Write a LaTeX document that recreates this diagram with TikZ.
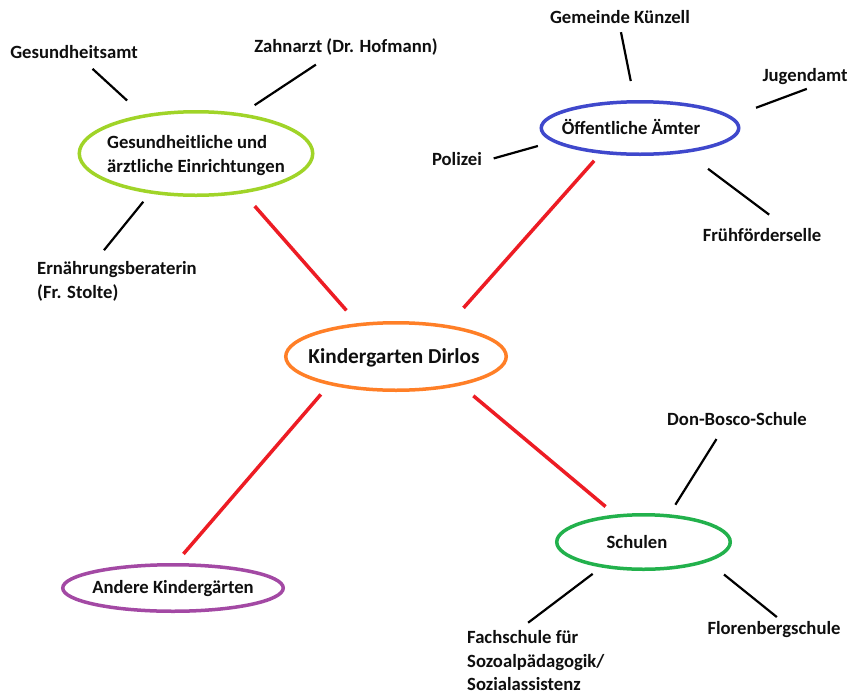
\documentclass[tikz,border=0pt]{standalone}
\usepackage{fontspec}
\setmainfont{Carlito}
\usetikzlibrary{shapes.geometric}
\definecolor{cLime}{RGB}{160,212,40}
\definecolor{cBlue}{RGB}{63,72,204}
\definecolor{cOrange}{RGB}{255,127,39}
\definecolor{cPurple}{RGB}{163,73,164}
\definecolor{cGreen}{RGB}{34,177,76}
\definecolor{cRed}{RGB}{237,28,36}
\definecolor{cText}{RGB}{15,15,15}
\begin{document}
\begin{tikzpicture}[x=1pt,y=-1pt,
  lbl/.style={font=\fontsize{18.67}{23.5}\selectfont\bfseries, text=cText, inner sep=0pt, text height=15pt, text depth=2pt},
  mlbl/.style={font=\fontsize{18.67}{24}\selectfont\bfseries, text=cText, inner sep=0pt, align=left},
  ctr/.style={font=\fontsize{21.3}{26}\selectfont\bfseries, text=cText, inner sep=0pt, text height=17pt, text depth=2.5pt},
  ell/.style={ellipse, draw, line width=3.5pt, inner sep=0pt},
  blk/.style={draw=black, line width=2.2pt},
  redl/.style={draw=cRed, line width=3.5pt}]
\fill[white] (0,0) rectangle (849,694);
\useasboundingbox (0,0) rectangle (849,694);

% ellipses
\node[ell, draw=cLime, minimum width=233.5pt, minimum height=83.5pt] (ges) at (196,153.5) {};
\node[ell, draw=cBlue, minimum width=197.5pt, minimum height=52.5pt] (oea) at (640,128) {};
\node[ell, draw=cOrange, minimum width=220.5pt, minimum height=67.5pt] (kd) at (396,356.5) {};
\node[ell, draw=cPurple, minimum width=220.5pt, minimum height=46.5pt] (ak) at (173,588) {};
\node[ell, draw=cGreen, minimum width=173.5pt, minimum height=54.5pt] (sch) at (643.5,542) {};

% ellipse texts
\node[mlbl, anchor=west] (gesT) at (107,155.5) {Gesundheitliche und\\ärztliche Einrichtungen};
\node[lbl] (oeaT) at (631,128) {Öffentliche Ämter};
\node[ctr] (kdT) at (394,356) {Kindergarten Dirlos};
\node[lbl] (akT) at (173,587) {Andere Kindergärten};
\node[lbl] (schT) at (637,542) {Schulen};

% labels
\node[lbl] (gesamt) at (74,52) {Gesundheitsamt};
\node[lbl] (zahn) at (346,46) {Zahnarzt (Dr. Hofmann)};
\node[mlbl, anchor=west] (ern) at (37,281) {Ernährungsberaterin\\(Fr. Stolte)};
\node[lbl] (gemeinde) at (620,17) {Gemeinde Künzell};
\node[lbl] (jugend) at (805,75) {Jugendamt};
\node[lbl] (polizei) at (457,159) {Polizei};
\node[lbl] (fruh) at (762,235) {Frühförderselle};
\node[lbl] (don) at (737,419) {Don-Bosco-Schule};
\node[lbl] (flor) at (774,628) {Florenbergschule};
\node[mlbl, anchor=west, font=\fontsize{18.67}{23.5}\selectfont\bfseries] (fach) at (467,661) {Fachschule für\\Sozoalpädagogik/\\Sozialassistenz};

% black connectors
\draw[blk, shorten <=21pt, shorten >=12pt] (ges.144) -- (gesamt.318);
\draw[blk, shorten <=15pt, shorten >=18pt] (ges.41) -- (zahn.210);
\draw[blk, shorten <=10.5pt, shorten >=13.7pt] (ges.221) -- (ern.137);
\draw[blk, shorten <=19.4pt, shorten >=6.6pt] (oea.101) -- (gemeinde.268);
\draw[blk, shorten <=25.7pt, shorten >=14.8pt] (oea.7) -- (jugend.331);
\draw[blk, shorten <=15.3pt, shorten >=12pt] (oea.189) -- (polizei.354);
\draw[blk, shorten <=26.7pt, shorten >=19.4pt] (oea.332) -- (fruh.21);
\draw[blk, shorten <=11.3pt, shorten >=13.4pt] (sch.47) -- (don.213);
\draw[blk, shorten <=10.6pt, shorten >=13.2pt] (sch.211) -- (fach.121);
\draw[blk, shorten <=20.3pt, shorten >=3.6pt] (sch.343) -- (flor.57);

% red connectors
\draw[redl, shorten <=17pt, shorten >=17pt] (ges.320) -- (kd.139);
\draw[redl, shorten <=9.4pt, shorten >=23pt] (oea.213) -- (kd.31.5);
\draw[redl, shorten <=12.5pt, shorten >=12pt] (kd.203) -- (ak.84);
\draw[redl, shorten <=16.2pt, shorten >=12.4pt] (kd.336) -- (sch.136);
\end{tikzpicture}
\end{document}
